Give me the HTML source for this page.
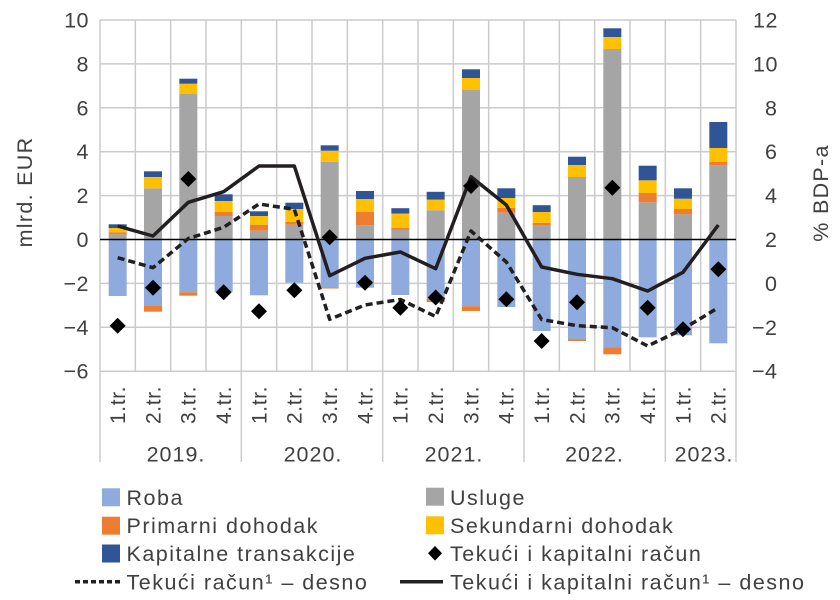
<!DOCTYPE html>
<html><head><meta charset="utf-8"><style>
html,body{margin:0;padding:0;background:#fff;}
svg{display:block;}
text{font-family:"Liberation Sans",Arial,sans-serif;fill:#404040;}
</style></head><body>
<svg width="840" height="600" viewBox="0 0 840 600" xmlns="http://www.w3.org/2000/svg">
<defs><path id="dm" d="M0,-8 L8,0 L0,8 L-8,0Z" fill="#000"/></defs>
<!-- horizontal gridlines -->
<g stroke="#cbcbcb" stroke-width="1.5">
<line x1="100" y1="20" x2="736" y2="20"/>
<line x1="100" y1="63.9" x2="736" y2="63.9"/>
<line x1="100" y1="107.8" x2="736" y2="107.8"/>
<line x1="100" y1="151.7" x2="736" y2="151.7"/>
<line x1="100" y1="195.6" x2="736" y2="195.6"/>
<line x1="100" y1="283.4" x2="736" y2="283.4"/>
<line x1="100" y1="327.3" x2="736" y2="327.3"/>
<line x1="100" y1="371.2" x2="736" y2="371.2"/>
<!-- vertical category gridlines -->
<line x1="135.33" y1="20" x2="135.33" y2="371"/>
<line x1="170.67" y1="20" x2="170.67" y2="371"/>
<line x1="206" y1="20" x2="206" y2="371"/>
<line x1="241.33" y1="20" x2="241.33" y2="462"/>
<line x1="276.67" y1="20" x2="276.67" y2="371"/>
<line x1="312" y1="20" x2="312" y2="371"/>
<line x1="347.33" y1="20" x2="347.33" y2="371"/>
<line x1="382.67" y1="20" x2="382.67" y2="462"/>
<line x1="418" y1="20" x2="418" y2="371"/>
<line x1="453.33" y1="20" x2="453.33" y2="371"/>
<line x1="488.67" y1="20" x2="488.67" y2="371"/>
<line x1="524" y1="20" x2="524" y2="462"/>
<line x1="559.33" y1="20" x2="559.33" y2="371"/>
<line x1="594.67" y1="20" x2="594.67" y2="371"/>
<line x1="630" y1="20" x2="630" y2="371"/>
<line x1="665.33" y1="20" x2="665.33" y2="462"/>
<line x1="700.67" y1="20" x2="700.67" y2="371"/>
<line x1="100" y1="20" x2="100" y2="462"/>
<line x1="736" y1="20" x2="736" y2="462"/>
</g>
<!-- bars -->
<g>
<!-- 1 -->
<rect x="108.67" y="234.3" width="18" height="5.2" fill="#a5a5a5"/>
<rect x="108.67" y="232.3" width="18" height="2" fill="#ed7d31"/>
<rect x="108.67" y="228" width="18" height="4.3" fill="#ffc000"/>
<rect x="108.67" y="224.3" width="18" height="3.7" fill="#2f5597"/>
<rect x="108.67" y="239.5" width="18" height="56.5" fill="#8faadc"/>
<!-- 2 -->
<rect x="144" y="188.3" width="18" height="51.2" fill="#a5a5a5"/>
<rect x="144" y="177" width="18" height="11.3" fill="#ffc000"/>
<rect x="144" y="171.3" width="18" height="5.7" fill="#2f5597"/>
<rect x="144" y="239.5" width="18" height="66.5" fill="#8faadc"/>
<rect x="144" y="306" width="18" height="5.7" fill="#ed7d31"/>
<!-- 3 -->
<rect x="179.33" y="94" width="18" height="145.5" fill="#a5a5a5"/>
<rect x="179.33" y="83.7" width="18" height="10.3" fill="#ffc000"/>
<rect x="179.33" y="78.7" width="18" height="5" fill="#2f5597"/>
<rect x="179.33" y="239.5" width="18" height="52.8" fill="#8faadc"/>
<rect x="179.33" y="292.3" width="18" height="3.4" fill="#ed7d31"/>
<!-- 4 -->
<rect x="214.67" y="216" width="18" height="23.5" fill="#a5a5a5"/>
<rect x="214.67" y="212" width="18" height="4" fill="#ed7d31"/>
<rect x="214.67" y="201" width="18" height="11" fill="#ffc000"/>
<rect x="214.67" y="194.3" width="18" height="6.7" fill="#2f5597"/>
<rect x="214.67" y="239.5" width="18" height="52.5" fill="#8faadc"/>
<!-- 5 -->
<rect x="250" y="230.7" width="18" height="8.8" fill="#a5a5a5"/>
<rect x="250" y="224.7" width="18" height="6" fill="#ed7d31"/>
<rect x="250" y="216" width="18" height="8.7" fill="#ffc000"/>
<rect x="250" y="211.3" width="18" height="4.7" fill="#2f5597"/>
<rect x="250" y="239.5" width="18" height="55.8" fill="#8faadc"/>
<!-- 6 -->
<rect x="285.33" y="224.7" width="18" height="14.8" fill="#a5a5a5"/>
<rect x="285.33" y="221.7" width="18" height="3" fill="#ed7d31"/>
<rect x="285.33" y="209" width="18" height="12.7" fill="#ffc000"/>
<rect x="285.33" y="202.7" width="18" height="6.3" fill="#2f5597"/>
<rect x="285.33" y="239.5" width="18" height="43.2" fill="#8faadc"/>
<!-- 7 -->
<rect x="320.67" y="161.7" width="18" height="77.8" fill="#a5a5a5"/>
<rect x="320.67" y="150.7" width="18" height="11" fill="#ffc000"/>
<rect x="320.67" y="145.3" width="18" height="5.4" fill="#2f5597"/>
<rect x="320.67" y="239.5" width="18" height="47.8" fill="#8faadc"/>
<rect x="320.67" y="287.3" width="18" height="1.2" fill="#ed7d31"/>
<!-- 8 -->
<rect x="356" y="225.3" width="18" height="14.2" fill="#a5a5a5"/>
<rect x="356" y="211.7" width="18" height="13.6" fill="#ed7d31"/>
<rect x="356" y="199" width="18" height="12.7" fill="#ffc000"/>
<rect x="356" y="191" width="18" height="8" fill="#2f5597"/>
<rect x="356" y="239.5" width="18" height="48.2" fill="#8faadc"/>
<!-- 9 -->
<rect x="391.33" y="229.5" width="18" height="10" fill="#a5a5a5"/>
<rect x="391.33" y="227.8" width="18" height="1.7" fill="#ed7d31"/>
<rect x="391.33" y="213.5" width="18" height="14.3" fill="#ffc000"/>
<rect x="391.33" y="208.2" width="18" height="5.3" fill="#2f5597"/>
<rect x="391.33" y="239.5" width="18" height="55.5" fill="#8faadc"/>
<!-- 10 -->
<rect x="426.67" y="210.2" width="18" height="29.3" fill="#a5a5a5"/>
<rect x="426.67" y="199.6" width="18" height="10.6" fill="#ffc000"/>
<rect x="426.67" y="191.8" width="18" height="7.8" fill="#2f5597"/>
<rect x="426.67" y="239.5" width="18" height="59.5" fill="#8faadc"/>
<rect x="426.67" y="299" width="18" height="3" fill="#ed7d31"/>
<!-- 11 -->
<rect x="462" y="90" width="18" height="149.5" fill="#a5a5a5"/>
<rect x="462" y="78" width="18" height="12" fill="#ffc000"/>
<rect x="462" y="69.3" width="18" height="8.7" fill="#2f5597"/>
<rect x="462" y="239.5" width="18" height="66.8" fill="#8faadc"/>
<rect x="462" y="306.3" width="18" height="4.7" fill="#ed7d31"/>
<!-- 12 -->
<rect x="497.33" y="212.7" width="18" height="26.8" fill="#a5a5a5"/>
<rect x="497.33" y="207.8" width="18" height="4.9" fill="#ed7d31"/>
<rect x="497.33" y="198" width="18" height="9.8" fill="#ffc000"/>
<rect x="497.33" y="188.3" width="18" height="9.7" fill="#2f5597"/>
<rect x="497.33" y="239.5" width="18" height="67.5" fill="#8faadc"/>
<!-- 13 -->
<rect x="532.67" y="225.7" width="18" height="13.8" fill="#a5a5a5"/>
<rect x="532.67" y="222.8" width="18" height="2.9" fill="#ed7d31"/>
<rect x="532.67" y="212" width="18" height="10.8" fill="#ffc000"/>
<rect x="532.67" y="205.2" width="18" height="6.8" fill="#2f5597"/>
<rect x="532.67" y="239.5" width="18" height="91.5" fill="#8faadc"/>
<!-- 14 -->
<rect x="568" y="177" width="18" height="62.5" fill="#a5a5a5"/>
<rect x="568" y="165" width="18" height="12" fill="#ffc000"/>
<rect x="568" y="156.7" width="18" height="8.3" fill="#2f5597"/>
<rect x="568" y="239.5" width="18" height="100" fill="#8faadc"/>
<rect x="568" y="339.5" width="18" height="1.5" fill="#ed7d31"/>
<!-- 15 -->
<rect x="603.33" y="49" width="18" height="190.5" fill="#a5a5a5"/>
<rect x="603.33" y="37" width="18" height="12" fill="#ffc000"/>
<rect x="603.33" y="28.3" width="18" height="8.7" fill="#2f5597"/>
<rect x="603.33" y="239.5" width="18" height="107.8" fill="#8faadc"/>
<rect x="603.33" y="347.3" width="18" height="7" fill="#ed7d31"/>
<!-- 16 -->
<rect x="638.67" y="202.3" width="18" height="37.2" fill="#a5a5a5"/>
<rect x="638.67" y="193" width="18" height="9.3" fill="#ed7d31"/>
<rect x="638.67" y="180.3" width="18" height="12.7" fill="#ffc000"/>
<rect x="638.67" y="165.7" width="18" height="14.6" fill="#2f5597"/>
<rect x="638.67" y="239.5" width="18" height="97.8" fill="#8faadc"/>
<!-- 17 -->
<rect x="674" y="214.3" width="18" height="25.2" fill="#a5a5a5"/>
<rect x="674" y="209" width="18" height="5.3" fill="#ed7d31"/>
<rect x="674" y="198.7" width="18" height="10.3" fill="#ffc000"/>
<rect x="674" y="188.3" width="18" height="10.4" fill="#2f5597"/>
<rect x="674" y="239.5" width="18" height="95.8" fill="#8faadc"/>
<!-- 18 -->
<rect x="709.33" y="165.3" width="18" height="74.2" fill="#a5a5a5"/>
<rect x="709.33" y="162" width="18" height="3.3" fill="#ed7d31"/>
<rect x="709.33" y="148" width="18" height="14" fill="#ffc000"/>
<rect x="709.33" y="122" width="18" height="26" fill="#2f5597"/>
<rect x="709.33" y="239.5" width="18" height="103.8" fill="#8faadc"/>
</g>
<!-- zero line -->
<line x1="100" y1="239.5" x2="736" y2="239.5" stroke="#000" stroke-width="1.6"/>
<!-- dashed line -->
<polyline fill="none" stroke="#231f20" stroke-width="3.5" stroke-dasharray="7 4" stroke-linejoin="round"
points="117.67,257.7 153,267.7 188.33,238.5 223.67,227.3 259,204 294.33,209.3 329.67,319.3 365,305 400.33,299.5 435.67,316.5 471,231 506.33,262 541.67,319.5 577,325.7 612.33,327.7 647.67,346 683,329 718.33,307.7"/>
<!-- solid line -->
<polyline fill="none" stroke="#231f20" stroke-width="3.5" stroke-linejoin="round"
points="117.67,226 153,236 188.33,202.3 223.67,191.7 259,166 294.33,166 329.67,275.7 365,258.3 400.33,252 435.67,268.7 471,176.7 506.33,205 541.67,267 577,274.3 612.33,278.7 647.67,291 683,272.3 718.33,225"/>
<!-- diamonds -->
<use href="#dm" x="117.67" y="325.7"/>
<use href="#dm" x="153" y="287.7"/>
<use href="#dm" x="188.33" y="179"/>
<use href="#dm" x="223.67" y="292.3"/>
<use href="#dm" x="259" y="311.3"/>
<use href="#dm" x="294.33" y="290.3"/>
<use href="#dm" x="329.67" y="237.3"/>
<use href="#dm" x="365" y="282.7"/>
<use href="#dm" x="400.33" y="307.7"/>
<use href="#dm" x="435.67" y="297.5"/>
<use href="#dm" x="471" y="186"/>
<use href="#dm" x="506.33" y="299.3"/>
<use href="#dm" x="541.67" y="341"/>
<use href="#dm" x="577" y="302.3"/>
<use href="#dm" x="612.33" y="187.7"/>
<use href="#dm" x="647.67" y="307.7"/>
<use href="#dm" x="683" y="329.3"/>
<use href="#dm" x="718.33" y="269.3"/>
<!-- left tick labels -->
<g font-size="21.5" text-anchor="end" letter-spacing="0.5">
<text x="89" y="27.5">10</text>
<text x="89" y="71.4">8</text>
<text x="89" y="115.3">6</text>
<text x="89" y="159.2">4</text>
<text x="89" y="203.1">2</text>
<text x="89" y="247">0</text>
<text x="89" y="290.9">−2</text>
<text x="89" y="334.8">−4</text>
<text x="89" y="378.7">−6</text>
</g>
<!-- right tick labels -->
<g font-size="21.5" letter-spacing="0.5">
<text x="753" y="27.5">12</text>
<text x="753" y="71.4">10</text>
<text x="765" y="115.3">8</text>
<text x="765" y="159.2">6</text>
<text x="765" y="203.1">4</text>
<text x="765" y="247">2</text>
<text x="765" y="290.9">0</text>
<text x="752" y="334.8">−2</text>
<text x="752" y="378.7">−4</text>
</g>
<!-- axis titles -->
<text font-size="21.5" letter-spacing="1.3" text-anchor="middle" transform="translate(32,192) rotate(-90)">mlrd. EUR</text>
<text font-size="21.5" letter-spacing="1.3" text-anchor="middle" transform="translate(828,193) rotate(-90)">% BDP-a</text>
<!-- x labels -->
<g font-size="21" letter-spacing="0.6" text-anchor="middle">
<text transform="translate(125,405) rotate(-90)">1.tr.</text>
<text transform="translate(160.3,405) rotate(-90)">2.tr.</text>
<text transform="translate(195.6,405) rotate(-90)">3.tr.</text>
<text transform="translate(231,405) rotate(-90)">4.tr.</text>
<text transform="translate(266.3,405) rotate(-90)">1.tr.</text>
<text transform="translate(301.6,405) rotate(-90)">2.tr.</text>
<text transform="translate(337,405) rotate(-90)">3.tr.</text>
<text transform="translate(372.3,405) rotate(-90)">4.tr.</text>
<text transform="translate(407.6,405) rotate(-90)">1.tr.</text>
<text transform="translate(443,405) rotate(-90)">2.tr.</text>
<text transform="translate(478.3,405) rotate(-90)">3.tr.</text>
<text transform="translate(513.6,405) rotate(-90)">4.tr.</text>
<text transform="translate(549,405) rotate(-90)">1.tr.</text>
<text transform="translate(584.3,405) rotate(-90)">2.tr.</text>
<text transform="translate(619.6,405) rotate(-90)">3.tr.</text>
<text transform="translate(655,405) rotate(-90)">4.tr.</text>
<text transform="translate(690.3,405) rotate(-90)">1.tr.</text>
<text transform="translate(725.6,405) rotate(-90)">2.tr.</text>
</g>
<g font-size="21.5" letter-spacing="1" text-anchor="middle">
<text x="176" y="461.5">2019.</text>
<text x="313" y="461.5">2020.</text>
<text x="454" y="461.5">2021.</text>
<text x="594.5" y="461.5">2022.</text>
<text x="704" y="461.5">2023.</text>
</g>
<!-- legend -->
<rect x="102" y="488.3" width="18" height="18" fill="#8faadc"/>
<rect x="102" y="516.7" width="18" height="18" fill="#ed7d31"/>
<rect x="102" y="544.5" width="18" height="18" fill="#2f5597"/>
<line x1="75" y1="581.7" x2="120" y2="581.7" stroke="#231f20" stroke-width="3.5" stroke-dasharray="5 3"/>
<rect x="426" y="487.7" width="18" height="18" fill="#a5a5a5"/>
<rect x="426" y="516.3" width="18" height="18" fill="#ffc000"/>
<path d="M435,546 L442,553.3 L435,560.6 L428,553.3Z" fill="#000"/>
<line x1="400" y1="581.7" x2="443" y2="581.7" stroke="#231f20" stroke-width="3.5"/>
<g font-size="21.5" letter-spacing="1.5">
<text x="126.5" y="505">Roba</text>
<text x="126.5" y="533">Primarni dohodak</text>
<text x="126.5" y="561">Kapitalne transakcije</text>
<text x="126.5" y="589.4">Tekući račun¹ – desno</text>
<text x="450" y="505">Usluge</text>
<text x="450" y="533">Sekundarni dohodak</text>
<text x="450" y="561">Tekući i kapitalni račun</text>
<text x="450" y="589.4">Tekući i kapitalni račun¹ – desno</text>
</g>
</svg>
</body></html>
